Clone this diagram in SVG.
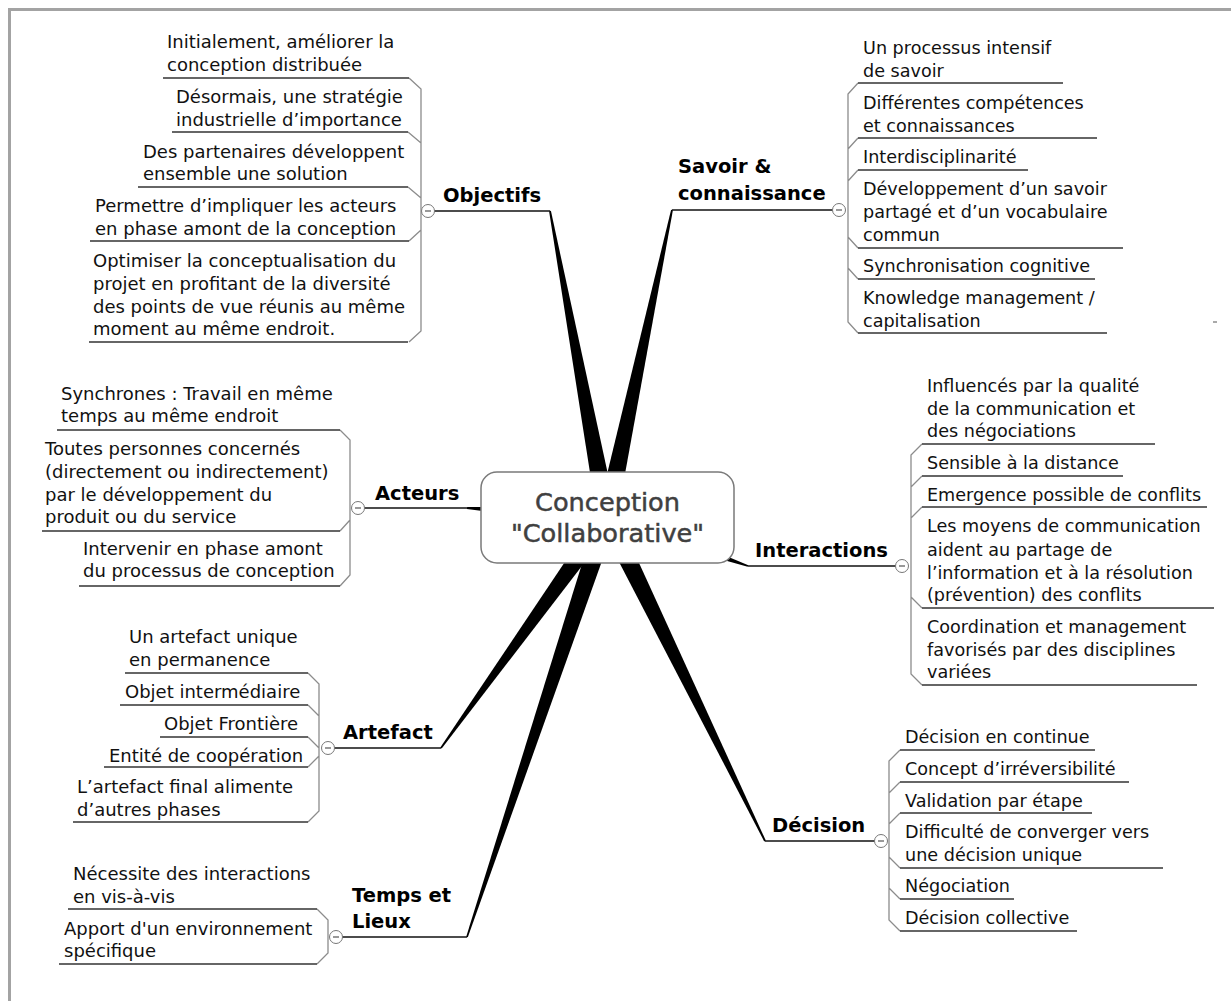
<svg xmlns="http://www.w3.org/2000/svg" width="1231" height="1001" viewBox="0 0 1231 1001">
<style>
  text { font-family: "DejaVu Sans", Verdana, sans-serif; fill: #111; }
  .c { font-size: 18px; }
  .cr { font-size: 17.6px; }
  .topic { font-size: 19.5px; font-weight: bold; fill: #000; }
  .center { font-size: 25.6px; fill: #404040; stroke: #404040; stroke-width: 0.5; text-anchor: middle; }
  .ul { stroke: #333; stroke-width: 1.3; fill: none; }
  .sp { stroke: #8c8c8c; stroke-width: 1.3; fill: none; }
  .tul { stroke: #111; stroke-width: 1.5; fill: none; }
  .wedge { fill: #000; }
  .btn { fill: #fff; stroke: #777; stroke-width: 1; }
  .minus { stroke: #555; stroke-width: 1.2; }
</style>
<rect width="1231" height="1001" fill="#fff"/>
<path d="M8 9.5 H1231 M9.5 8 V1001" stroke="#a3a3a3" stroke-width="3" fill="none"/>

<g id="connectors">
  <polygon class="wedge" points="616.8,515.2 550.9,210.8 549.1,211.2 597.2,518.8"/>
  <polygon class="wedge" points="616.8,519.1 672.9,210.2 671.1,209.8 597.2,514.9"/>
  <polygon class="wedge" points="607.6,507.0 467.1,507.1 466.9,508.9 606.4,527.0"/>
  <polygon class="wedge" points="603.7,526.4 747.7,566.8 748.3,565.2 610.3,507.6"/>
  <polygon class="wedge" points="598.9,511.2 440.3,747.5 441.7,748.5 615.1,522.8"/>
  <polygon class="wedge" points="597.5,513.8 466.2,936.7 467.8,937.3 616.5,520.2"/>
  <polygon class="wedge" points="598.0,521.4 764.2,841.4 765.8,840.6 616.0,512.6"/>
  <path class="sp" d="M409 78 L421 89 V331 L409 342 M408 132 L421 143 M408 187 L421 198 M409 241 L421 230"/>
  <path class="sp" d="M858 83 L848 94 V322 L858 333 M858 138 L848 149 M858 170 L848 181 M858 248 L848 237 M858 279 L848 268"/>
  <path class="sp" d="M340 430 L350 440 V575 L340 586 M340 531 L350 520"/>
  <path class="sp" d="M922 444 L911 455 V674 L922 685 M922 476 L911 487 M922 507 L911 518 M922 608 L911 597"/>
  <path class="sp" d="M308 673 L319 684 V811 L308 822 M308 705 L319 716 M308 737 L319 748 M308 767 L319 756"/>
  <path class="sp" d="M317 909 L328 920 V953 L317 964"/>
  <path class="sp" d="M900 750 L889 761 V920 L900 931 M900 782 L889 793 M900 813 L889 824 M900 868 L889 857 M900 899 L889 888"/>
  <path d="M1213 322 H1217" stroke="#555" stroke-width="1"/>
</g>

<g id="node-center">
  <rect x="481" y="472" width="253" height="91" rx="16" fill="#fff" stroke="#7a7a7a" stroke-width="1.5"/>
  <text class="center" x="607.5" y="511">Conception</text>
  <text class="center" x="607.5" y="542">"Collaborative"</text>
</g>

<g id="node-objectifs">
  <text class="topic" x="443" y="202">Objectifs</text>
  <path class="tul" d="M434 211 H550"/>
  <circle class="btn" cx="428" cy="211" r="6.5"/><path class="minus" d="M425 211 H431"/>
</g>
<g id="node-obj-1"><text class="c" x="167" y="48">Initialement, améliorer la</text><text class="c" x="167" y="71">conception distribuée</text><path class="ul" d="M163 78 H409"/></g>
<g id="node-obj-2"><text class="c" x="176" y="103">Désormais, une stratégie</text><text class="c" x="176" y="126">industrielle d’importance</text><path class="ul" d="M172 132 H408"/></g>
<g id="node-obj-3"><text class="c" x="143" y="158">Des partenaires développent</text><text class="c" x="143" y="180">ensemble une solution</text><path class="ul" d="M138 187 H408"/></g>
<g id="node-obj-4"><text class="c" x="95" y="212">Permettre d’impliquer les acteurs</text><text class="c" x="95" y="235">en phase amont de la conception</text><path class="ul" d="M90 241 H409"/></g>
<g id="node-obj-5"><text class="c" x="93" y="267">Optimiser la conceptualisation du</text><text class="c" x="93" y="290">projet en profitant de la diversité</text><text class="c" x="93" y="312.5">des points de vue réunis au même</text><text class="c" x="93" y="335">moment au même endroit.</text><path class="ul" d="M89 342 H408"/></g>

<g id="node-savoir">
  <text class="topic" x="678" y="173">Savoir &amp;</text>
  <text class="topic" x="678" y="200">connaissance</text>
  <path class="tul" d="M672 210 H833"/>
  <circle class="btn" cx="839" cy="210" r="6.5"/><path class="minus" d="M836 210 H842"/>
</g>
<g id="node-sav-1"><text class="cr" x="863" y="54">Un processus intensif</text><text class="cr" x="863" y="77">de savoir</text><path class="ul" d="M858 83 H1063"/></g>
<g id="node-sav-2"><text class="cr" x="863" y="109">Différentes compétences</text><text class="cr" x="863" y="132">et connaissances</text><path class="ul" d="M858 138 H1097"/></g>
<g id="node-sav-3"><text class="cr" x="863" y="163">Interdisciplinarité</text><path class="ul" d="M858 170 H1028"/></g>
<g id="node-sav-4"><text class="cr" x="863" y="195">Développement d’un savoir</text><text class="cr" x="863" y="218">partagé et d’un vocabulaire</text><text class="cr" x="863" y="241">commun</text><path class="ul" d="M858 248 H1123"/></g>
<g id="node-sav-5"><text class="cr" x="863" y="272">Synchronisation cognitive</text><path class="ul" d="M858 279 H1095"/></g>
<g id="node-sav-6"><text class="cr" x="863" y="304">Knowledge management /</text><text class="cr" x="863" y="327">capitalisation</text><path class="ul" d="M858 333 H1107"/></g>

<g id="node-acteurs">
  <text class="topic" x="375" y="500">Acteurs</text>
  <path class="tul" d="M364 508 H467"/>
  <circle class="btn" cx="358" cy="508" r="6.5"/><path class="minus" d="M355 508 H361"/>
</g>
<g id="node-act-1"><text class="c" x="61" y="400">Synchrones : Travail en même</text><text class="c" x="61" y="422">temps au même endroit</text><path class="ul" d="M57 430 H340"/></g>
<g id="node-act-2"><text class="c" x="45" y="455">Toutes personnes concernés</text><text class="c" x="45" y="478">(directement ou indirectement)</text><text class="c" x="45" y="501">par le développement du</text><text class="c" x="45" y="523">produit ou du service</text><path class="ul" d="M42 531 H340"/></g>
<g id="node-act-3"><text class="c" x="83" y="555">Intervenir en phase amont</text><text class="c" x="83" y="577">du processus de conception</text><path class="ul" d="M79 586 H340"/></g>

<g id="node-interactions">
  <text class="topic" x="755" y="557">Interactions</text>
  <path class="tul" d="M748 566 H896"/>
  <circle class="btn" cx="902" cy="566" r="6.5"/><path class="minus" d="M899 566 H905"/>
</g>
<g id="node-int-1"><text class="cr" x="927" y="392">Influencés par la qualité</text><text class="cr" x="927" y="415">de la communication et</text><text class="cr" x="927" y="437">des négociations</text><path class="ul" d="M922 444 H1155"/></g>
<g id="node-int-2"><text class="cr" x="927" y="469">Sensible à la distance</text><path class="ul" d="M922 476 H1123"/></g>
<g id="node-int-3"><text class="cr" x="927" y="501">Emergence possible de conflits</text><path class="ul" d="M922 507 H1207"/></g>
<g id="node-int-4"><text class="cr" x="927" y="532">Les moyens de communication</text><text class="cr" x="927" y="555.5">aident au partage de</text><text class="cr" x="927" y="578.5">l’information et à la résolution</text><text class="cr" x="927" y="601">(prévention) des conflits</text><path class="ul" d="M922 608 H1214"/></g>
<g id="node-int-5"><text class="cr" x="927" y="633">Coordination et management</text><text class="cr" x="927" y="656">favorisés par des disciplines</text><text class="cr" x="927" y="678">variées</text><path class="ul" d="M922 685 H1197"/></g>

<g id="node-artefact">
  <text class="topic" x="343" y="739">Artefact</text>
  <path class="tul" d="M334 748 H441"/>
  <circle class="btn" cx="328" cy="748" r="6.5"/><path class="minus" d="M325 748 H331"/>
</g>
<g id="node-art-1"><text class="c" x="129" y="643">Un artefact unique</text><text class="c" x="129" y="666">en permanence</text><path class="ul" d="M125 673 H308"/></g>
<g id="node-art-2"><text class="c" x="125" y="698">Objet intermédiaire</text><path class="ul" d="M120 705 H308"/></g>
<g id="node-art-3"><text class="c" x="164" y="730">Objet Frontière</text><path class="ul" d="M160 737 H308"/></g>
<g id="node-art-4"><text class="c" x="109" y="762">Entité de coopération</text><path class="ul" d="M104 767 H308"/></g>
<g id="node-art-5"><text class="c" x="77" y="793">L’artefact final alimente</text><text class="c" x="77" y="816">d’autres phases</text><path class="ul" d="M73 822 H308"/></g>

<g id="node-temps">
  <text class="topic" x="352" y="902">Temps et</text>
  <text class="topic" x="352" y="928">Lieux</text>
  <path class="tul" d="M342 937 H467"/>
  <circle class="btn" cx="336" cy="937" r="6.5"/><path class="minus" d="M333 937 H339"/>
</g>
<g id="node-tmp-1"><text class="c" x="73" y="880">Nécessite des interactions</text><text class="c" x="73" y="903">en vis-à-vis</text><path class="ul" d="M68 909 H317"/></g>
<g id="node-tmp-2"><text class="c" x="64" y="935">Apport d'un environnement</text><text class="c" x="64" y="957">spécifique</text><path class="ul" d="M59 964 H317"/></g>

<g id="node-decision">
  <text class="topic" x="772" y="832">Décision</text>
  <path class="tul" d="M765 841 H875"/>
  <circle class="btn" cx="881" cy="841" r="6.5"/><path class="minus" d="M878 841 H884"/>
</g>
<g id="node-dec-1"><text class="cr" x="905" y="743">Décision en continue</text><path class="ul" d="M900 750 H1095"/></g>
<g id="node-dec-2"><text class="cr" x="905" y="775">Concept d’irréversibilité</text><path class="ul" d="M900 782 H1129"/></g>
<g id="node-dec-3"><text class="cr" x="905" y="807">Validation par étape</text><path class="ul" d="M900 813 H1092"/></g>
<g id="node-dec-4"><text class="cr" x="905" y="838">Difficulté de converger vers</text><text class="cr" x="905" y="861">une décision unique</text><path class="ul" d="M900 868 H1163"/></g>
<g id="node-dec-5"><text class="cr" x="905" y="892">Négociation</text><path class="ul" d="M900 899 H1014"/></g>
<g id="node-dec-6"><text class="cr" x="905" y="924">Décision collective</text><path class="ul" d="M900 931 H1077"/></g>
</svg>
